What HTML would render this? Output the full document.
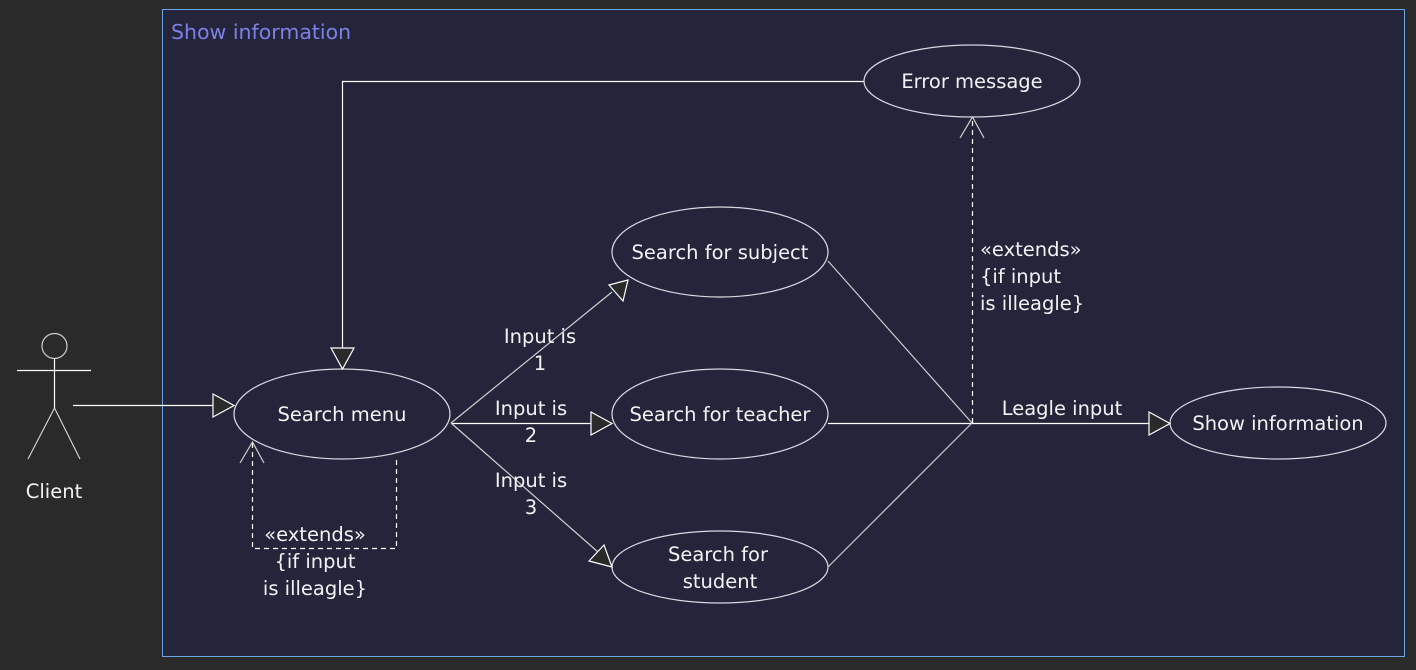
<!DOCTYPE html>
<html><head><meta charset="utf-8"><style>
html,body{margin:0;padding:0;background:#2a2a2a;}
svg{display:block;}
text{font-family:"DejaVu Sans","Liberation Sans",sans-serif;font-size:19.5px;fill:#f2f2f2;}
</style></head><body>
<svg width="1416" height="670" viewBox="0 0 1416 670" xmlns="http://www.w3.org/2000/svg">
<rect x="0" y="0" width="1416" height="670" fill="#2a2a2a"/>
<rect x="162.5" y="9.5" width="1242" height="647" fill="#24253a" stroke="#6aa6e6" stroke-width="1"/>
<text x="171" y="39" style="fill:#7d80e6;font-size:20.5px">Show information</text>

<g stroke="#ffffff" stroke-width="1.2" fill="none">
<circle cx="54.5" cy="346" r="12.5" stroke="#cfcfcf"/>
<line x1="17" y1="370.5" x2="91" y2="370.5"/>
<line x1="54.5" y1="358.5" x2="54.5" y2="408"/>
<line x1="54.5" y1="408" x2="28" y2="459" stroke="#cfcfcf"/>
<line x1="54.5" y1="408" x2="80" y2="459" stroke="#cfcfcf"/>
<line x1="73" y1="405.5" x2="213" y2="405.5"/>
<polygon points="213,394 234,405.5 213,417" fill="#2a2a2a"/>

<g stroke="#d8d8e0">
<ellipse cx="342" cy="414" rx="108" ry="45"/>
<ellipse cx="972" cy="81" rx="108" ry="36"/>
<ellipse cx="720" cy="252" rx="108" ry="45"/>
<ellipse cx="720" cy="414" rx="108" ry="45"/>
<ellipse cx="720" cy="567" rx="108" ry="36"/>
<ellipse cx="1278" cy="423" rx="108" ry="36"/>
</g>

<polyline points="864,81.5 342.5,81.5 342.5,348"/>
<polygon points="331,348 342.5,369 354,348" fill="#2a2a2a"/>

<line x1="451" y1="423" x2="612" y2="292" stroke="#cfcfcf"/>
<polygon points="609,285 628,280 623,301" fill="#2a2a2a"/>
<line x1="451" y1="423.5" x2="591" y2="423.5"/>
<polygon points="591,412 612,423.5 591,435" fill="#2a2a2a"/>
<line x1="451" y1="423" x2="598" y2="552" stroke="#cfcfcf"/>
<polygon points="604,545 612,567 589,561" fill="#2a2a2a"/>

<line x1="828" y1="261" x2="972" y2="423" stroke="#cfcfcf"/>
<line x1="828" y1="423.5" x2="972" y2="423.5"/>
<line x1="828" y1="567" x2="972" y2="423" stroke="#cfcfcf"/>
<line x1="972" y1="423.5" x2="1149" y2="423.5"/>
<polygon points="1149,412 1170,423.5 1149,435" fill="#2a2a2a"/>

<line x1="972.5" y1="423" x2="972.5" y2="118" stroke-dasharray="5,4"/>
<polyline points="960,138 972.5,117 984,138" stroke="#cfcfcf"/>

<polyline points="252.5,443 252.5,548.5 396.5,548.5 396.5,459" stroke-dasharray="5,4"/>
<polyline points="240,463 252.5,442 264,463" stroke="#cfcfcf"/>
</g>

<text x="54" y="498" text-anchor="middle">Client</text>
<text x="342" y="421" text-anchor="middle">Search menu</text>
<text x="972" y="88" text-anchor="middle">Error message</text>
<text x="720" y="259" text-anchor="middle">Search for subject</text>
<text x="720" y="421" text-anchor="middle">Search for teacher</text>
<text x="718" y="561" text-anchor="middle">Search for</text>
<text x="720" y="588" text-anchor="middle">student</text>
<text x="1278" y="430" text-anchor="middle">Show information</text>

<text x="540" y="343" text-anchor="middle">Input is</text>
<text x="540" y="370" text-anchor="middle">1</text>
<text x="531" y="415" text-anchor="middle">Input is</text>
<text x="531" y="442" text-anchor="middle">2</text>
<text x="531" y="487" text-anchor="middle">Input is</text>
<text x="531" y="514" text-anchor="middle">3</text>

<text x="980" y="256">«extends»</text>
<text x="980" y="283">{if input</text>
<text x="980" y="310">is illeagle}</text>
<text x="1062" y="415" text-anchor="middle">Leagle input</text>

<text x="315" y="541" text-anchor="middle">«extends»</text>
<text x="315" y="568" text-anchor="middle">{if input</text>
<text x="315" y="595" text-anchor="middle">is illeagle}</text>
</svg>
</body></html>
